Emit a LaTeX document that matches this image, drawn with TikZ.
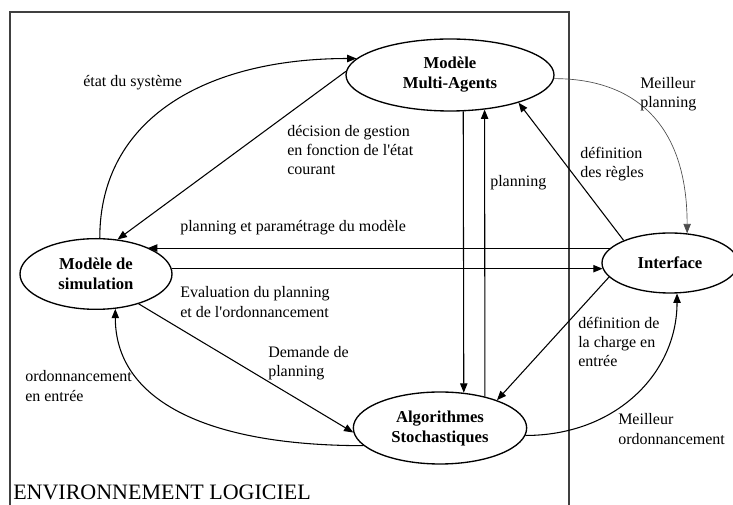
\documentclass[tikz,border=0pt]{standalone}
\usepackage{fontspec}
\setmainfont{Liberation Serif}
\usetikzlibrary{shapes.geometric,arrows.meta}

\tikzset{
  bloc/.style={ellipse,draw,line width=1pt,inner sep=0pt,align=center,
    font=\bfseries\fontsize{12.5}{15}\selectfont},
  lbl/.style={anchor=west,align=left,inner sep=0pt,
    font=\fontsize{12}{14.5}\selectfont},
  fl/.style={->,line width=0.8pt},
}

\begin{document}
\begin{tikzpicture}[x=0.75pt,y=-0.75pt,>={Triangle[length=7pt,width=5.5pt]}]
  \useasboundingbox (0,0) rectangle (733,505);
  % cadre de l'environnement
  \draw[black!75,line width=0.8pt] (10,505) |- (569,12) -- (569,505);
  \node[lbl,font=\fontsize{16.5}{18}\selectfont] (env) at (13,492) {ENVIRONNEMENT LOGICIEL};

  % les quatre blocs
  \node[bloc,minimum width=156pt,minimum height=54pt] (ma) at (450,75) {Modèle\\Multi-Agents};
  \node[bloc,minimum width=114pt,minimum height=53pt] (sim) at (96,274) {Modèle de\\simulation};
  \node[bloc,minimum width=102pt,minimum height=45pt] (int) at (670,263) {Interface};
  \node[bloc,minimum width=130pt,minimum height=54pt] (alg) at (440,428) {Algorithmes\\Stochastiques};

  % liaisons
  \draw[fl] (sim.84) .. controls +(0,-120) and +(-150,0) .. (ma.170);
  \draw[fl] (ma.178) -- (sim.58);
  \draw[fl] (ma.-70) -- (alg.56.5);
  \draw[fl] (alg.35.2) -- (ma.-45);
  \draw[fl] (int.154) -- (ma.-22);
  \draw[->,line width=0.5pt,black!70] (ma.-2) .. controls +(80,0) and +(0,-110) .. (int.60);
  \draw[fl] (int.166) -- (sim.27 |- int.166);
  \draw[fl] (sim.4) -- (sim.4 -| int.185);
  \draw[fl] (int.193) -- (alg.26);
  \draw[fl] (alg.-5) .. controls +(90,0) and +(0,80) .. (int.-77);
  \draw[fl] (alg.193) .. controls +(-160,0) and +(0,90) .. (sim.-61);
  \draw[fl] (sim.-35) -- (alg.183);

  % textes des liaisons
  \node[lbl] (etat) at (83,83) {état du système};
  \node[lbl] (decision) at (287,150) {décision de gestion\\en fonction de l\textquotesingle état\\courant};
  \node[lbl] (param) at (180,228) {planning et paramétrage du modèle};
  \node[lbl] (eval) at (180,302) {Evaluation du planning\\et de l\textquotesingle ordonnancement};
  \node[lbl] (demande) at (268,363) {Demande de\\planning};
  \node[lbl] (ordo) at (25,386) {ordonnancement\\en entrée};
  \node[lbl] (planning) at (490,183) {planning};
  \node[lbl] (regles) at (580,164) {définition\\des règles};
  \node[lbl] (mplan) at (640,94) {Meilleur\\planning};
  \node[lbl] (charge) at (578,342) {définition de\\la charge en\\entrée};
  \node[lbl] (mordo) at (618,429) {Meilleur\\ordonnancement};
\end{tikzpicture}
\end{document}
